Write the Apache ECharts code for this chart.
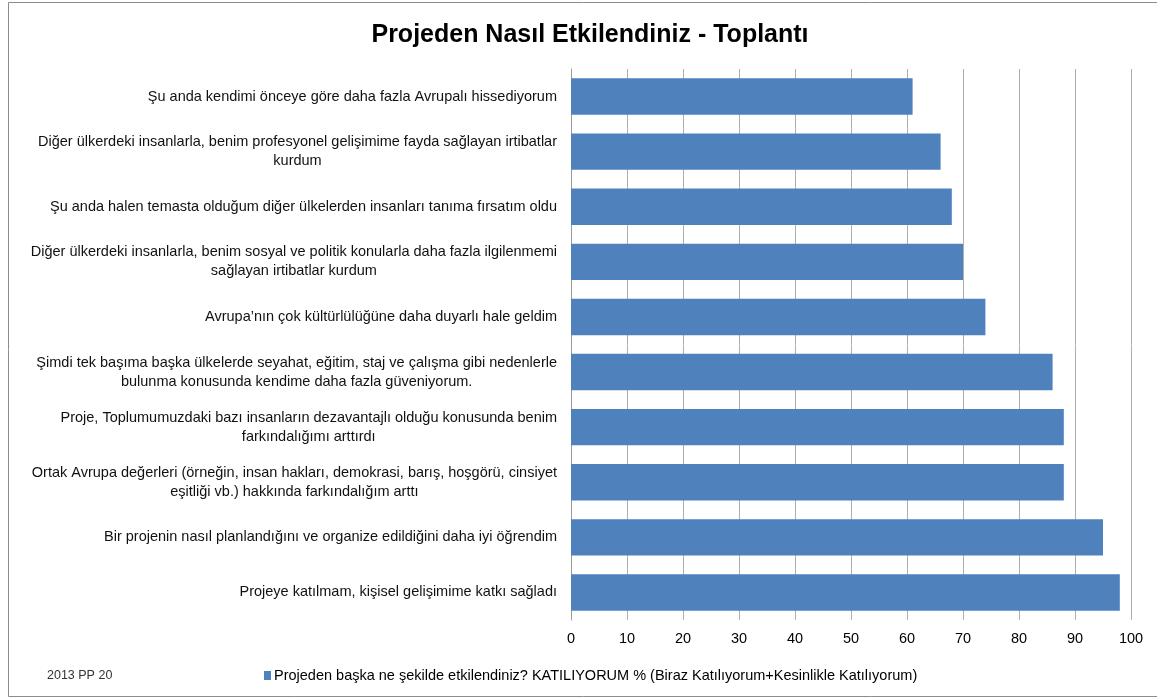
<!DOCTYPE html>
<html>
<head>
<meta charset="utf-8">
<script src="https://cdn.jsdelivr.net/npm/echarts@6/dist/echarts.min.js"></script>
<style>
  html, body { margin: 0; padding: 0; background: #fff; }
  #chart { width: 1157px; height: 700px; }
</style>
</head>
<body>
<div id="chart"></div>
<script>
// kategoriler (alttan üste, ECharts y ekseni sırası)
var categories = [
    'Projeye katılmam, kişisel gelişimime katkı sağladı',
    'Bir projenin nasıl planlandığını ve organize edildiğini daha iyi öğrendim',
    'Ortak Avrupa değerleri (örneğin, insan hakları, demokrasi, barış, hoşgörü, cinsiyet\neşitliği vb.) hakkında farkındalığım arttı',
    'Proje, Toplumumuzdaki bazı insanların dezavantajlı olduğu konusunda benim\nfarkındalığımı arttırdı',
    'Şimdi tek başıma başka ülkelerde seyahat, eğitim, staj ve çalışma gibi nedenlerle\nbulunma konusunda kendime daha fazla güveniyorum.',
    'Avrupa’nın çok kültürlülüğüne daha duyarlı hale geldim',
    'Diğer ülkerdeki insanlarla, benim sosyal ve politik konularla daha fazla ilgilenmemi\nsağlayan irtibatlar kurdum',
    'Şu anda halen temasta olduğum diğer ülkelerden insanları tanıma fırsatım oldu',
    'Diğer ülkerdeki insanlarla, benim profesyonel gelişimime fayda sağlayan irtibatlar\nkurdum',
    'Şu anda kendimi önceye göre daha fazla Avrupalı hissediyorum'
]
var katiliyorum = [98, 95, 88, 88, 86, 74, 70, 68, 66, 61]
var seriesName = 'Projeden başka ne şekilde etkilendiniz? KATILIYORUM % (Biraz Katılıyorum+Kesinlikle Katılıyorum)'
var xTicks = { min: 0, max: 100, interval: 10 }

var font = '"Liberation Sans", "DejaVu Sans", sans-serif'
var chart = echarts.init(document.getElementById('chart'))

chart.setOption({
    animation: false,
    textStyle: { fontFamily: font },
    title: {
        text: 'Projeden Nasıl Etkilendiniz - Toplantı',
        left: 585,
        textAlign: 'center',
        top: 18,
        textStyle: { fontSize: 25, fontWeight: 'bold', color: '#000', fontFamily: font }
    },
    legend: {
        data: [seriesName],
        left: 259,
        top: 663,
        itemWidth: 7,
        itemHeight: 9,
        itemGap: 4,
        icon: 'rect',
        textStyle: { fontSize: 14.5, color: '#000', fontFamily: font, padding: [0, 0, 0, -2] }
    },
    grid: { left: 571, right: 26, top: 69, bottom: 80, containLabel: false },
    xAxis: {
        type: 'value',
        min: xTicks.min,
        max: xTicks.max,
        interval: xTicks.interval,
        axisLine: { show: false },
        axisTick: { show: false },
        axisLabel: { fontSize: 14.5, color: '#000', margin: 11 },
        splitLine: { lineStyle: { color: '#b0b0b0', width: 1 } }
    },
    yAxis: {
        type: 'category',
        data: categories,
        axisLine: { show: true, lineStyle: { color: '#9a9a9a' } },
        axisTick: { show: false },
        axisLabel: {
            fontSize: 14.5,
            color: '#111',
            margin: 14,
            lineHeight: 19,
            formatter: function (v) {
                return v.split('\n').map(function (l) { return '{c|' + l + '}' }).join('\n')
            },
            rich: { c: { align: 'center', fontSize: 14.5, lineHeight: 19, color: '#111' } }
        }
    },
    series: [{
        name: seriesName,
        type: 'bar',
        data: katiliyorum,
        barCategoryGap: '34%',
        itemStyle: { color: '#4F81BD' }
    }],
    graphic: [
        {
            type: 'rect',
            shape: { x: 8.5, y: 2.5, width: 1160, height: 694 },
            style: { fill: null, stroke: '#8c8c8c', lineWidth: 1 },
            silent: true
        },
        {
            type: 'text',
            left: 47,
            top: 669,
            style: { text: '2013 PP 20', fontSize: 12.5, fill: '#333', fontFamily: font }
        }
    ]
})
</script>
</body>
</html>
